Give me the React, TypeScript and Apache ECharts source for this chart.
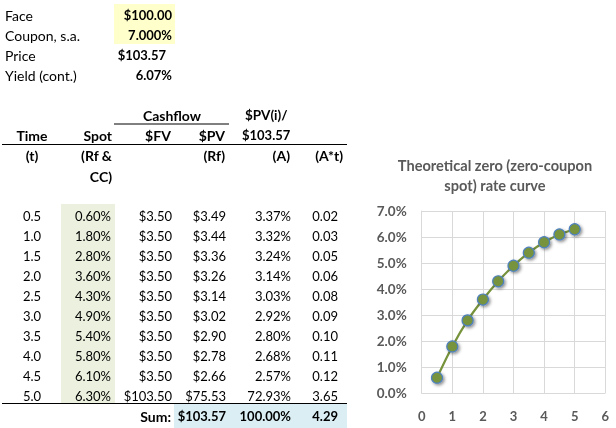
import React, { useEffect, useRef } from "react";
import * as echarts from "echarts";

const times = [0.5, 1.0, 1.5, 2.0, 2.5, 3.0, 3.5, 4.0, 4.5, 5.0];
const spotPct = [0.6, 1.8, 2.8, 3.6, 4.3, 4.9, 5.4, 5.8, 6.1, 6.3];
const fvVals = [3.5, 3.5, 3.5, 3.5, 3.5, 3.5, 3.5, 3.5, 3.5, 103.5];
const pvVals = [3.49, 3.44, 3.36, 3.26, 3.14, 3.02, 2.9, 2.78, 2.66, 75.53];
const weightPct = [3.37, 3.32, 3.24, 3.14, 3.03, 2.92, 2.8, 2.68, 2.57, 72.93];
const weightTime = [0.02, 0.03, 0.05, 0.06, 0.08, 0.09, 0.1, 0.11, 0.12, 3.65];
const sumPv = "$103.57";
const sumWeight = "100.00%";
const sumWt = "4.29";
const summaryLabels = ["Face", "Coupon, s.a.", "Price", "Yield (cont.)"];
const summaryValues = ["$100.00", "7.000%", "$103.57", "6.07%"];
const chartTitle = "Theoretical zero (zero-coupon\nspot) rate curve";

const FONT = "Lato, 'Open Sans', sans-serif";

function txt(text: string, x: number, y: number, align: string, bold = false, size = 14) {
  return {
    type: "text",
    silent: true,
    style: {
      text,
      x,
      y,
      fill: "#000",
      font: `${bold ? "bold " : ""}${size}px ${FONT}`,
      align,
      textAlign: align,
      verticalAlign: "middle",
      textVerticalAlign: "middle",
    },
  };
}

export default function App() {
  const ref = useRef<HTMLDivElement>(null);
  useEffect(() => {
    document.body.style.margin = "0";
    const chart = echarts.init(ref.current!, null, { renderer: "svg" });
    const g: any[] = [];
    const N = 13;
    // backgrounds
    g.push({ type: "rect", silent: true, shape: { x: 114, y: 4, width: 61, height: 40 }, style: { fill: "#FFFFCC" } });
    g.push({ type: "rect", silent: true, shape: { x: 61, y: 204, width: 54, height: 199 }, style: { fill: "#EBF1DE" } });
    g.push({ type: "rect", silent: true, shape: { x: 174, y: 404, width: 173, height: 24 }, style: { fill: "#DAEEF3" } });
    // summary block
    summaryLabels.forEach((l, i) => {
      g.push(txt(l, 5, 15 + 20 * i, "left"));
    });
    g.push(txt(summaryValues[0], 172, 15, "right", true, N));
    g.push(txt(summaryValues[1], 172, 35, "right", true, N));
    g.push(txt(summaryValues[2], 166, 55, "right", true, N));
    g.push(txt(summaryValues[3], 172, 75, "right", true, N));
    // headers
    g.push(txt("Cashflow", 172, 115, "center", true));
    g.push({ type: "line", silent: true, shape: { x1: 114, y1: 124, x2: 229, y2: 124 }, style: { stroke: "#000", lineWidth: 1 } });
    g.push(txt("$PV(i)/", 245, 115, "left", true, 13.5));
    g.push(txt("Time", 32, 135, "center", true));
    g.push(txt("Spot", 112, 135, "right", true));
    g.push(txt("$FV", 158, 135, "center", true));
    g.push(txt("$PV", 225, 135, "right", true));
    g.push(txt("$103.57", 242, 135, "left", true, N));
    g.push({ type: "line", silent: true, shape: { x1: 2, y1: 144.5, x2: 347, y2: 144.5 }, style: { stroke: "#000", lineWidth: 1.2 } });
    g.push(txt("(t)", 32, 155, "center", true));
    g.push(txt("(Rf &", 112, 155, "right", true));
    g.push(txt("CC)", 112, 176, "right", true));
    g.push(txt("(Rf)", 225, 155, "right", true));
    g.push(txt("(A)", 290, 155, "right", true));
    g.push(txt("(A*t)", 343, 155, "right", true));
    // data rows
    times.forEach((t, i) => {
      const y = 216 + 20 * i;
      g.push(txt(t.toFixed(1), 32, y, "center", false, N));
      g.push(txt(spotPct[i].toFixed(2) + "%", 111, y, "right", false, N));
      g.push(txt("$" + fvVals[i].toFixed(2), 172, y, "right", false, N));
      g.push(txt("$" + pvVals[i].toFixed(2), 226, y, "right", false, N));
      g.push(txt(weightPct[i].toFixed(2) + "%", 291, y, "right", false, N));
      g.push(txt(weightTime[i].toFixed(2), 338, y, "right", false, N));
    });
    g.push({ type: "line", silent: true, shape: { x1: 2, y1: 403.5, x2: 347, y2: 403.5 }, style: { stroke: "#000", lineWidth: 1.2 } });
    g.push(txt("Sum:", 171, 416, "right", true));
    g.push(txt(sumPv, 226, 416, "right", true, N));
    g.push(txt(sumWeight, 291, 416, "right", true, N));
    g.push(txt(sumWt, 338, 416, "right", true, N));
    // chart title
    g.push({
      type: "text",
      silent: true,
      style: {
        text: chartTitle,
        x: 495,
        y: 175,
        fill: "#595959",
        font: `bold 14.6px ${FONT}`,
        align: "center",
        textAlign: "center",
        verticalAlign: "middle",
        textVerticalAlign: "middle",
        lineHeight: 20,
      },
    });

    chart.setOption({
      animation: false,
      graphic: g,
      grid: { left: 421.7, right: 10.7, top: 211, bottom: 34.7 },
      xAxis: {
        type: "value",
        min: 0,
        max: 6,
        interval: 1,
        axisLine: { show: false },
        axisTick: { show: false },
        splitLine: { show: true, lineStyle: { color: "#D9D9D9", width: 1 } },
        axisLabel: { color: "#595959", fontWeight: "bold", fontSize: 13, fontFamily: FONT, margin: 16 },
      },
      yAxis: {
        type: "value",
        min: 0,
        max: 0.07,
        interval: 0.01,
        axisLine: { show: true, lineStyle: { color: "#D9D9D9" } },
        axisTick: { show: false },
        splitLine: { show: true, lineStyle: { color: "#D9D9D9", width: 1 } },
        axisLabel: {
          color: "#595959",
          fontWeight: "bold",
          fontSize: 13.5,
          fontFamily: FONT,
          margin: 15,
          formatter: (v: number) => (v * 100).toFixed(1) + "%",
        },
      },
      series: [
        {
          type: "line",
          smooth: 0.3,
          data: times.map((t, i) => [t, spotPct[i] / 100]),
          symbol: "circle",
          symbolSize: 11,
          lineStyle: { color: "#77933C", width: 2.25 },
          itemStyle: {
            color: "#77933C",
            borderColor: "#4F81BD",
            borderWidth: 1.2,
            shadowBlur: 3,
            shadowColor: "rgba(0,0,0,0.45)",
            shadowOffsetX: 1.5,
            shadowOffsetY: 1.5,
          },
        },
      ],
    });
    return () => chart.dispose();
  }, []);
  return <div ref={ref} style={{ position: "fixed", left: 0, top: 0, width: 616, height: 428 }} />;
}
